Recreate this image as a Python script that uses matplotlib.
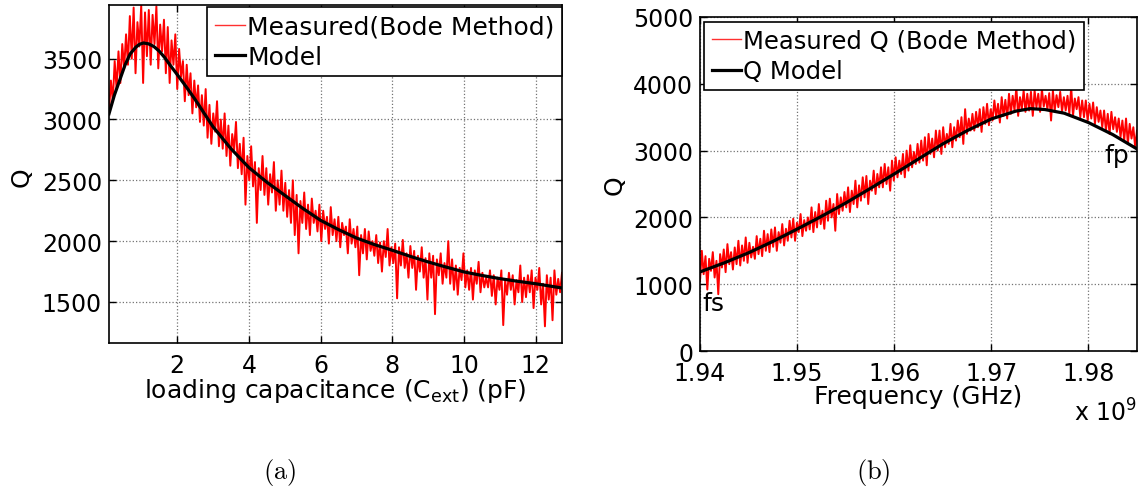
import numpy as np
import matplotlib
matplotlib.use("Agg")
import matplotlib.pyplot as plt
from matplotlib.lines import Line2D

# ---------------- data: panel (a) ----------------
cap_model_x = [0.10, 0.25, 0.41, 0.55, 0.69, 0.85, 0.95, 1.06, 1.20, 1.35, 1.50, 1.65, 1.80,
               2.0, 2.25, 2.5, 3.0, 3.5, 4.0, 4.5, 5.0, 5.5, 6.0, 6.5, 7.0, 7.5, 8.0, 8.5,
               9.0, 9.5, 10.0, 10.5, 11.0, 11.5, 12.0, 12.73]
cap_model_q = [3047, 3200, 3333, 3450, 3539, 3595, 3618, 3629, 3622, 3600, 3562, 3510, 3448,
               3370, 3270, 3165, 2940, 2760, 2605, 2485, 2377, 2270, 2171, 2095, 2026, 1972,
               1925, 1875, 1829, 1787, 1747, 1718, 1692, 1670, 1650, 1615]

cap_meas_q = [
    3060, 3320, 3150, 3480, 3250, 3560, 3300, 3620, 3420, 3700,
    3450, 3850, 3500, 3920, 3380, 3800, 3600, 3940, 3300, 3880,
    3520, 3900, 3450, 3860, 3620, 3930, 3420, 3780, 3560, 3820,
    3380, 3760, 3300, 3650, 3450, 3700, 3250, 3580, 3350, 3480,
    3150, 3450, 3200, 3380, 3050, 3320, 3100, 3280, 2980, 3200,
    2950, 3250, 2850, 3120, 2800, 3050, 2900, 3150, 2780, 3000,
    2760, 3050, 2700, 2950, 2620, 2880, 2750, 2980, 2600, 2800,
    2550, 2850, 2300, 2700, 2500, 2780, 2450, 2650, 2150, 2600,
    2420, 2700, 2380, 2600, 2300, 2550, 2400, 2650, 2250, 2500,
    2300, 2580, 2250, 2480, 2200, 2420, 2150, 2500, 2050, 2380,
    1900, 2330, 2150, 2400, 2100, 2300, 2050, 2350, 2150, 2250,
    2080, 2300, 2000, 2250, 2100, 2200, 1980, 2280, 2050, 2180,
    2000, 2200, 1950, 2150, 2050, 2120, 1900, 2180, 1980, 2100,
    1950, 2120, 1720, 2050, 1900, 2100, 1850, 2080, 1920, 2000,
    1880, 2050, 1820, 1990, 1750, 2000, 1870, 2100, 1800, 1950,
    1820, 1980, 1530, 1950, 1800, 2010, 1780, 1900, 1700, 1960,
    1780, 1920, 1600, 1880, 1750, 1950, 1700, 1860, 1520, 1900,
    1700, 1880, 1400, 1850, 1720, 1900, 1650, 1820, 1700, 2000,
    1650, 1850, 1600, 1800, 1560, 1780, 1680, 1900, 1620, 1760,
    1600, 1780, 1520, 1760, 1650, 1830, 1580, 1740, 1620, 1700,
    1620, 1760, 1550, 1720, 1480, 1700, 1600, 1760, 1310, 1680,
    1560, 1740, 1600, 1720, 1480, 1680, 1580, 1800, 1500, 1700,
    1540, 1720, 1580, 1760, 1450, 1700, 1600, 1780, 1480, 1650,
    1300, 1720, 1520, 1700, 1350, 1760, 1560, 1690, 1580, 1740,
]
cap_meas_x = np.linspace(0.10, 12.73, len(cap_meas_q))
cap_xticks = [2, 4, 6, 8, 10, 12]
cap_yticks = [1500, 2000, 2500, 3000, 3500]

# ---------------- data: panel (b) ----------------
freq_model_ghz = [1.940, 1.9425, 1.945, 1.9475, 1.950, 1.9525, 1.955, 1.9575, 1.960, 1.9625,
                  1.965, 1.9675, 1.970, 1.9725, 1.974, 1.9755, 1.9775, 1.980, 1.9825, 1.985]
freq_model_q = [1184, 1320, 1470, 1640, 1825, 2015, 2215, 2430, 2650, 2875,
                3100, 3298, 3474, 3590, 3628, 3615, 3560, 3420, 3240, 3025]

freq_meas_q = [
    1050, 1500, 1150, 1420, 920, 1380, 1200, 1480, 1100, 1350,
    850, 1450, 1250, 1520, 1180, 1600, 1300, 1480, 1220, 1550,
    1300, 1650, 1280, 1580, 1350, 1700, 1320, 1620, 1400, 1560,
    1380, 1720, 1450, 1680, 1420, 1800, 1500, 1750, 1480, 1820,
    1560, 1850, 1500, 1780, 1620, 1900, 1580, 1830, 1650, 1950,
    1700, 1980, 1650, 1920, 1780, 2050, 1720, 1960, 1800, 2000,
    1820, 2150, 1780, 2080, 1850, 2200, 1900, 2100, 1830, 2250,
    1950, 2280, 2000, 2200, 1800, 2350, 2050, 2300, 2100, 2380,
    2150, 2450, 2080, 2400, 2200, 2550, 2150, 2480, 2250, 2600,
    2300, 2620, 2200, 2550, 2400, 2700, 2350, 2650, 2450, 2750,
    2450, 2800, 2500, 2750, 2400, 2850, 2550, 2900, 2600, 2850,
    2650, 2950, 2600, 3000, 2700, 3080, 2750, 2980, 2800, 3100,
    2820, 3150, 2850, 3200, 2780, 3250, 2950, 3180, 2900, 3300,
    3000, 3300, 2950, 3350, 3050, 3250, 3100, 3400, 3050, 3350,
    3150, 3450, 3200, 3500, 3100, 3620, 3250, 3480, 3300, 3550,
    3300, 3580, 3350, 3620, 3280, 3650, 3400, 3700, 3380, 3620,
    3450, 3750, 3500, 3700, 3420, 3800, 3520, 3760, 3480, 3850,
    3550, 3820, 3600, 3950, 3520, 3800, 3620, 3900, 3580, 3850,
    3600, 3880, 3520, 3900, 3650, 3850, 3580, 3920, 3660, 3820,
    3620, 3860, 3450, 3900, 3600, 3830, 3650, 3880, 3580, 3800,
    3600, 3820, 3550, 3950, 3520, 3780, 3620, 3800, 3500, 3750,
    3500, 3750, 3450, 3700, 3480, 3720, 3400, 3650, 3430, 3600,
    3350, 3600, 3300, 3550, 3250, 3580, 3320, 3500, 3280, 3480,
    3200, 3450, 3150, 3480, 3100, 3400, 3180, 3350, 3050, 3300,
]
freq_meas_ghz = np.linspace(1.940, 1.985, len(freq_meas_q))
freq_xticks_ghz = [1.94, 1.95, 1.96, 1.97, 1.98]
freq_xticklabels = ["1.94", "1.95", "1.96", "1.97", "1.98"]
freq_yticks = [0, 1000, 2000, 3000, 4000, 5000]

# ---------------- figure ----------------
plt.rcParams["font.family"] = ["DejaVu Sans"]
W, H = 1143, 489
fig = plt.figure(figsize=(W / 100, H / 100), dpi=100)

TICK_FS = 17
LAB_FS = 18


def px_axes(x0, y0, x1, y1):
    return fig.add_axes([x0 / W, 1 - y1 / H, (x1 - x0) / W, (y1 - y0) / H])


def style(ax):
    ax.grid(True, linestyle=":", color="0.45", linewidth=0.9)
    ax.set_axisbelow(True)
    ax.tick_params(direction="in", length=5, width=1, top=True, right=True,
                   labelsize=TICK_FS, pad=5, colors="black")
    ax.tick_params(axis="x", pad=7)
    for s in ax.spines.values():
        s.set_linewidth(1.2)


def legend(ax, handles, labels, fs, **kw):
    lg = ax.legend(handles, labels, borderaxespad=0, fontsize=fs, handlelength=1.2,
                   handletextpad=0.1, borderpad=0.3, labelspacing=0.25, fancybox=False,
                   framealpha=1, edgecolor="black", **kw)
    lg.get_frame().set_linewidth(1.2)
    return lg


h_meas = Line2D([], [], color="#ff3030", lw=1.0)
h_model = Line2D([], [], color="black", lw=2.3)

# panel (a)
ax1 = px_axes(109, 6, 562, 344)
ax1.plot(cap_meas_x, cap_meas_q, color="red", lw=1.4, zorder=2)
ax1.plot(cap_model_x, cap_model_q, color="black", lw=2.3, zorder=3)
ax1.set_xlim(0.10, 12.73)
ax1.set_ylim(1163, 3941)
ax1.set_xticks(cap_xticks)
ax1.set_yticks(cap_yticks)
style(ax1)
legend(ax1, [h_meas, h_model], ["Measured(Bode Method)", "Model"], 18,
       loc="upper right", bbox_to_anchor=(1.0, 0.994))

# panel (b)
ax2 = px_axes(700, 18, 1137, 352)
ax2.plot(freq_meas_ghz, freq_meas_q, color="red", lw=1.4, zorder=2)
ax2.plot(freq_model_ghz, freq_model_q, color="black", lw=2.3, zorder=3)
ax2.set_xlim(1.940, 1.985)
ax2.set_ylim(0, 5000)
ax2.set_xticks(freq_xticks_ghz)
ax2.set_xticklabels(freq_xticklabels)
ax2.set_yticks(freq_yticks)
style(ax2)
legend(ax2, [h_meas, h_model], ["Measured Q (Bode Method)", "Q Model"], 17.5,
       loc="upper left", bbox_to_anchor=(0.01, 0.986))
ax2.text(1.9402, 610, "fs", fontsize=18, ha="left", va="baseline")
ax2.text(1.9816, 2830, "fp", fontsize=18, ha="left", va="baseline")

# axis labels placed as figure text
fig.text(335 / W, 1 - 398 / H, "loading capacitance (C$_\\mathregular{ext}$) (pF)",
         fontsize=LAB_FS, ha="center", va="baseline")
fig.text(22 / W, 1 - 177 / H, "Q", fontsize=LAB_FS, rotation=90, ha="center", va="center")
fig.text(918 / W, 1 - 404 / H, "Frequency (GHz)", fontsize=LAB_FS, ha="center", va="baseline")
fig.text(615 / W, 1 - 185 / H, "Q", fontsize=LAB_FS, rotation=90, ha="center", va="center")
fig.text(1137 / W, 1 - 422 / H, "x 10$^\\mathregular{9}$", fontsize=TICK_FS, ha="right",
         va="baseline")

# captions
fig.text(280 / W, 1 - 472 / H, r"$\mathrm{(a)}$", fontsize=19, ha="center", va="center",
         math_fontfamily="cm")
fig.text(873 / W, 1 - 472 / H, r"$\mathrm{(b)}$", fontsize=19, ha="center", va="center",
         math_fontfamily="cm")

fig.savefig("out.png", dpi=100)
